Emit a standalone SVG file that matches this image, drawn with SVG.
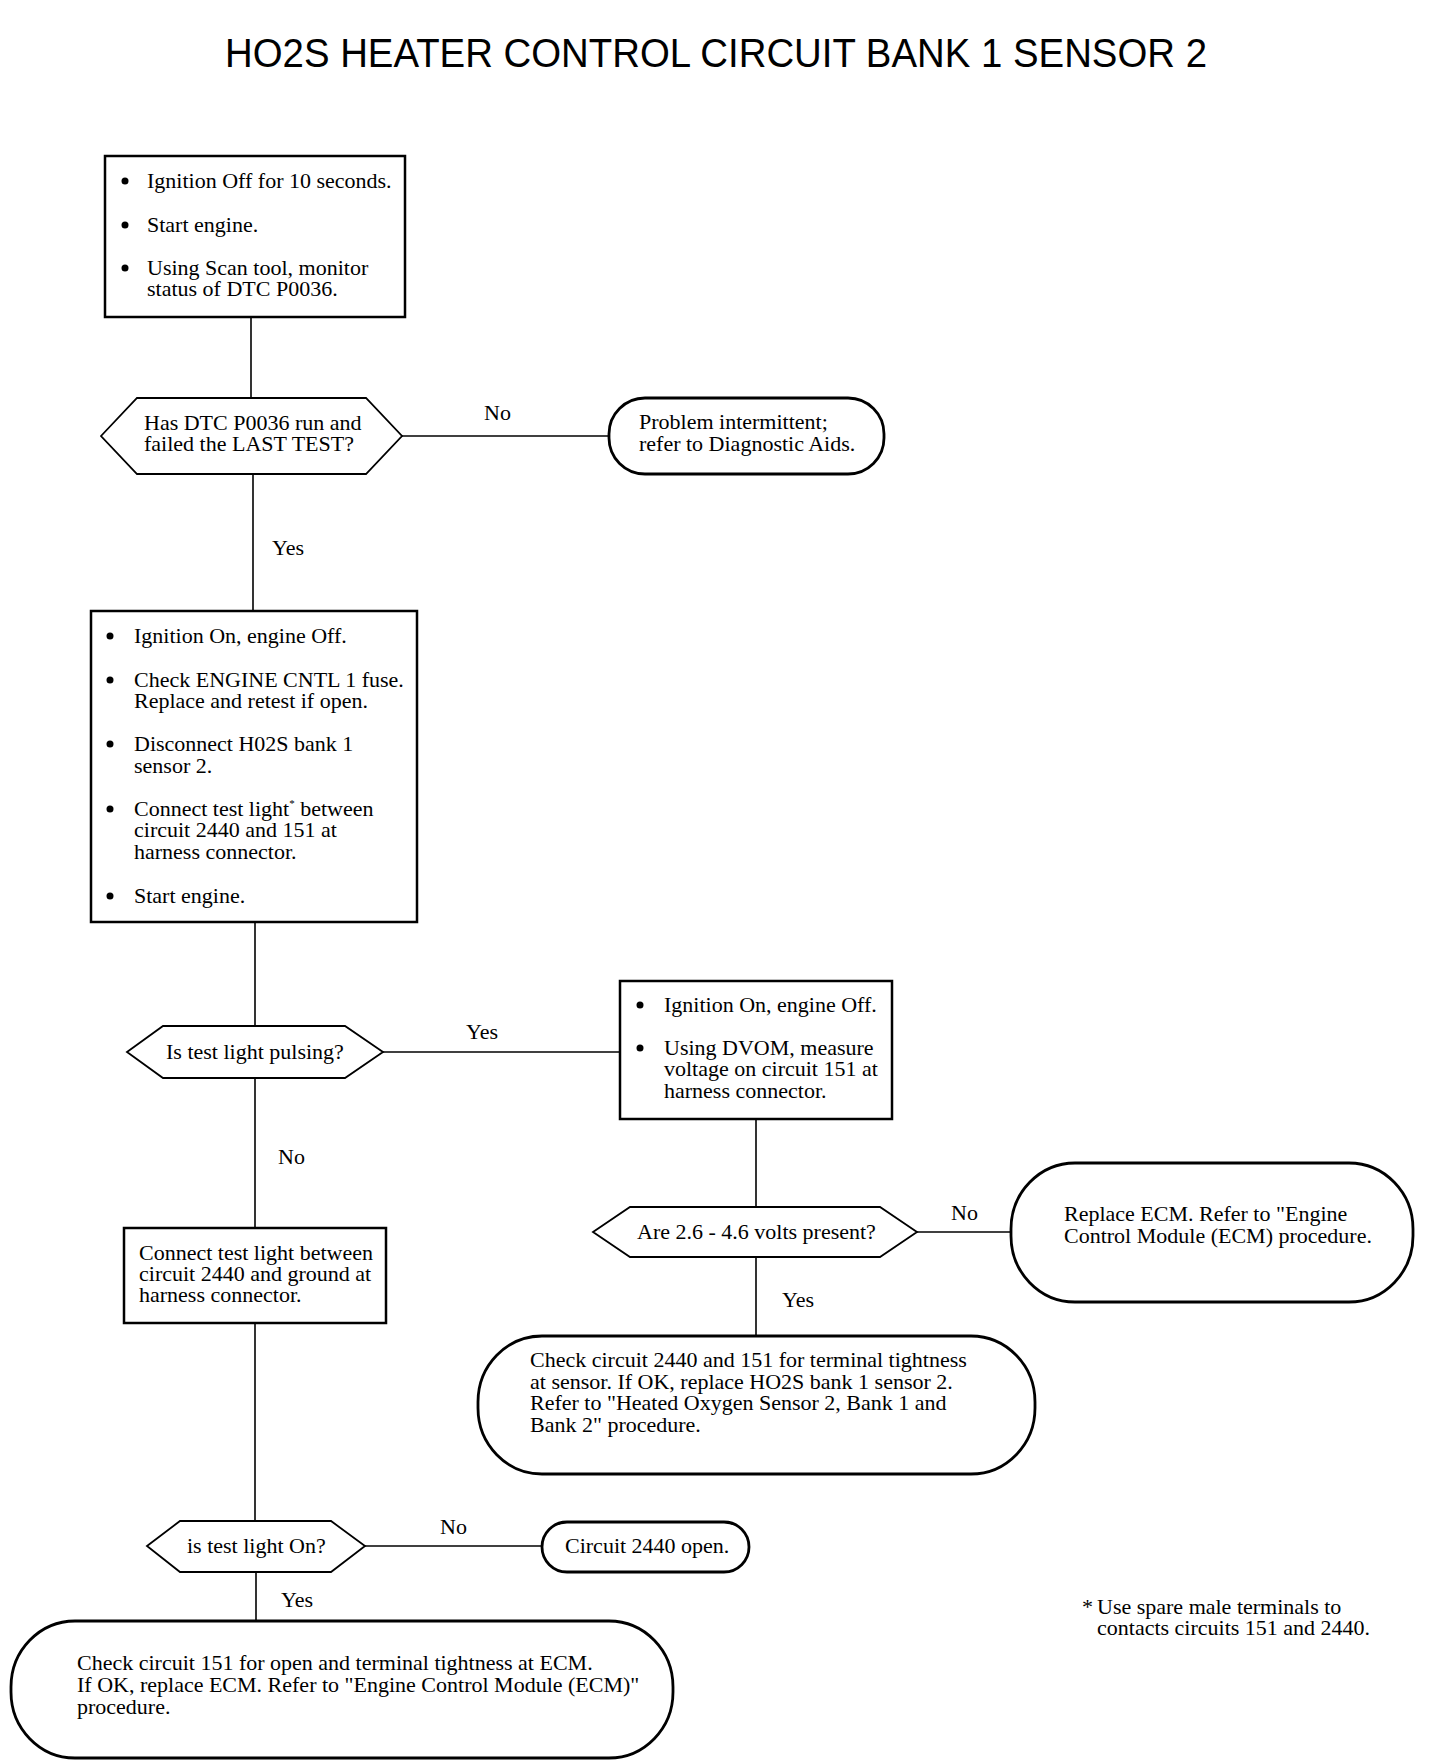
<svg xmlns="http://www.w3.org/2000/svg" width="1440" height="1764" viewBox="0 0 1440 1764">
<style>
.bg{fill:#fff}
.box{fill:#fff;stroke:#000;stroke-width:2.5}
.hex{fill:#fff;stroke:#000;stroke-width:1.8}
.term{fill:#fff;stroke:#000;stroke-width:2.8}
.conn line{stroke:#000;stroke-width:1.6}
text{font-family:"Liberation Serif","Times New Roman",serif;font-size:22px;fill:#000}
.title{font-family:"Liberation Sans",Arial,sans-serif;font-size:40px}
.dot{fill:#000}
</style>
<rect class="bg" x="0" y="0" width="1440" height="1764"/>
<text class="title" x="225" y="67" textLength="982" lengthAdjust="spacingAndGlyphs">HO2S HEATER CONTROL CIRCUIT BANK 1 SENSOR 2</text>

<g id="connectors" class="conn">
<line x1="251" y1="317" x2="251" y2="398"/>
<line x1="402" y1="436" x2="609" y2="436"/>
<line x1="253" y1="474" x2="253" y2="611"/>
<line x1="255" y1="922" x2="255" y2="1026"/>
<line x1="383" y1="1052" x2="620" y2="1052"/>
<line x1="756" y1="1119" x2="756" y2="1207"/>
<line x1="917" y1="1232" x2="1011" y2="1232"/>
<line x1="756" y1="1257" x2="756" y2="1336"/>
<line x1="255" y1="1078" x2="255" y2="1228"/>
<line x1="255" y1="1323" x2="255" y2="1521"/>
<line x1="365" y1="1546" x2="542" y2="1546"/>
<line x1="256" y1="1572" x2="256" y2="1621"/>
<text x="484" y="420">No</text>
<text x="272" y="555">Yes</text>
<text x="466" y="1039">Yes</text>
<text x="278" y="1164">No</text>
<text x="951" y="1220">No</text>
<text x="782" y="1307">Yes</text>
<text x="440" y="1534">No</text>
<text x="281" y="1607">Yes</text>
</g>

<g id="box1">
<rect class="box" x="105" y="156" width="300" height="161"/>
<circle class="dot" cx="125" cy="181" r="3.5"/>
<circle class="dot" cx="125" cy="225" r="3.5"/>
<circle class="dot" cx="125" cy="268" r="3.5"/>
<text x="147" y="188">Ignition Off for 10 seconds.</text>
<text x="147" y="232">Start engine.</text>
<text x="147" y="275">Using Scan tool, monitor</text>
<text x="147" y="296">status of DTC P0036.</text>
</g>

<g id="dec1">
<polygon class="hex" points="101,436 137,398 366,398 402,436 366,474 137,474"/>
<text x="144" y="430">Has DTC P0036 run and</text>
<text x="144" y="451">failed the LAST TEST?</text>
</g>

<g id="term1">
<rect class="term" x="609" y="398" width="275" height="76" rx="36" ry="36"/>
<text x="639" y="429">Problem intermittent;</text>
<text x="639" y="451">refer to Diagnostic Aids.</text>
</g>

<g id="box2">
<rect class="box" x="91" y="611" width="326" height="311"/>
<circle class="dot" cx="110" cy="636" r="3.5"/>
<circle class="dot" cx="110" cy="680" r="3.5"/>
<circle class="dot" cx="110" cy="744" r="3.5"/>
<circle class="dot" cx="110" cy="809" r="3.5"/>
<circle class="dot" cx="110" cy="896" r="3.5"/>
<text x="134" y="643">Ignition On, engine Off.</text>
<text x="134" y="687">Check ENGINE CNTL 1 fuse.</text>
<text x="134" y="708">Replace and retest if open.</text>
<text x="134" y="751">Disconnect H02S bank 1</text>
<text x="134" y="773">sensor 2.</text>
<text x="134" y="816">Connect test light<tspan font-size="11" dy="-9">*</tspan><tspan dy="9"> between</tspan></text>
<text x="134" y="837">circuit 2440 and 151 at</text>
<text x="134" y="859">harness connector.</text>
<text x="134" y="903">Start engine.</text>
</g>

<g id="dec2">
<polygon class="hex" points="127,1052 163,1026 345,1026 383,1052 345,1078 163,1078"/>
<text x="166" y="1059">Is test light pulsing?</text>
</g>

<g id="box3">
<rect class="box" x="620" y="981" width="272" height="138"/>
<circle class="dot" cx="640" cy="1005" r="3.5"/>
<circle class="dot" cx="640" cy="1048" r="3.5"/>
<text x="664" y="1012">Ignition On, engine Off.</text>
<text x="664" y="1055">Using DVOM, measure</text>
<text x="664" y="1076">voltage on circuit 151 at</text>
<text x="664" y="1098">harness connector.</text>
</g>

<g id="dec3">
<polygon class="hex" points="593,1232 630,1207 880,1207 917,1232 880,1257 630,1257"/>
<text x="637" y="1239">Are 2.6 - 4.6 volts present?</text>
</g>

<g id="term2">
<rect class="term" x="1011" y="1163" width="402" height="139" rx="64" ry="66"/>
<text x="1064" y="1221">Replace ECM. Refer to "Engine</text>
<text x="1064" y="1243">Control Module (ECM) procedure.</text>
</g>

<g id="term3">
<rect class="term" x="478" y="1336" width="557" height="138" rx="64" ry="66"/>
<text x="530" y="1367">Check circuit 2440 and 151 for terminal tightness</text>
<text x="530" y="1389">at sensor. If OK, replace HO2S bank 1 sensor 2.</text>
<text x="530" y="1410">Refer to "Heated Oxygen Sensor 2, Bank 1 and</text>
<text x="530" y="1432">Bank 2" procedure.</text>
</g>

<g id="box4">
<rect class="box" x="124" y="1228" width="262" height="95"/>
<text x="139" y="1260">Connect test light between</text>
<text x="139" y="1281">circuit 2440 and ground at</text>
<text x="139" y="1302">harness connector.</text>
</g>

<g id="dec4">
<polygon class="hex" points="147,1546 180,1521 331,1521 365,1546 331,1572 180,1572"/>
<text x="187" y="1553">is test light On?</text>
</g>

<g id="term4">
<rect class="term" x="542" y="1522" width="207" height="50" rx="25" ry="25"/>
<text x="565" y="1553">Circuit 2440 open.</text>
</g>

<g id="term5">
<rect class="term" x="11" y="1621" width="662" height="137" rx="64" ry="66"/>
<text x="77" y="1670">Check circuit 151 for open and terminal tightness at ECM.</text>
<text x="77" y="1692">If OK, replace ECM. Refer to "Engine Control Module (ECM)"</text>
<text x="77" y="1714">procedure.</text>
</g>

<g id="footnote">
<text x="1082" y="1614">*<tspan x="1097">Use spare male terminals to</tspan></text>
<text x="1097" y="1635">contacts circuits 151 and 2440.</text>
</g>
</svg>
